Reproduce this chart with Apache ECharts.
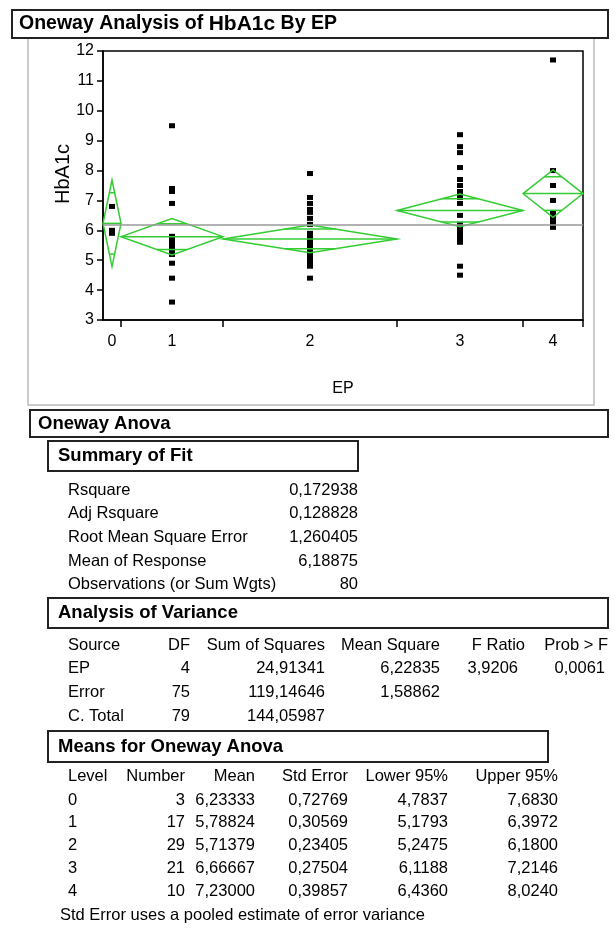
<!DOCTYPE html>
<html><head><meta charset="utf-8">
<script src="https://cdn.jsdelivr.net/npm/echarts@6/dist/echarts.min.js"></script>
<style>html,body{margin:0;padding:0;background:#fff}#c{width:615px;height:935px}</style>
</head><body><div id="c"></div>
<script>
// ---------- data ----------
const categories = ['0', '1', '2', '3', '4'];
const groupCounts = [3, 17, 29, 21, 10];
const groupMeans = [6.23333, 5.78824, 5.71379, 6.66667, 7.23000];
const stdErrors = [0.72769, 0.30569, 0.23405, 0.27504, 0.39857];
const lower95 = [4.7837, 5.1793, 5.2475, 6.1188, 6.4360];
const upper95 = [7.6830, 6.3972, 6.1800, 7.2146, 8.0240];
const grandMean = 6.18875;

const hba1cEP0 = [6.8, 6.0, 5.9];
const hba1cEP1 = [9.5, 7.4, 7.3, 6.9, 5.8, 5.7, 5.6, 5.5, 5.4, 5.4, 5.3, 5.3, 5.2, 5.2, 4.9, 4.4, 3.6];
const hba1cEP2 = [7.9, 7.1, 6.9, 6.7, 6.6, 6.4, 6.2, 5.9, 5.8, 5.8, 5.7, 5.7, 5.7, 5.6, 5.6, 5.5, 5.5, 5.4, 5.4, 5.3, 5.3, 5.2, 5.2, 5.1, 5.1, 5.0, 4.9, 4.8, 4.4];
const hba1cEP3 = [9.2, 8.8, 8.6, 8.1, 7.7, 7.5, 7.3, 7.1, 6.9, 6.5, 6.2, 6.1, 6.0, 5.9, 5.8, 5.8, 5.7, 5.7, 5.6, 4.8, 4.5];
const hba1cEP4 = [11.7, 8.0, 7.5, 7.0, 6.6, 6.5, 6.4, 6.3, 6.2, 6.1];
const groupValues = [hba1cEP0, hba1cEP1, hba1cEP2, hba1cEP3, hba1cEP4];

const yMin = 3, yMax = 12, yStep = 1;

const fitLabels = ['Rsquare', 'Adj Rsquare', 'Root Mean Square Error', 'Mean of Response', 'Observations (or Sum Wgts)'];
const fitValues = ['0,172938', '0,128828', '1,260405', '6,18875', '80'];

const anovaHeaders = ['Source', 'DF', 'Sum of Squares', 'Mean Square', 'F Ratio', 'Prob > F'];
const anovaSource = ['EP', 'Error', 'C. Total'];
const anovaDF = ['4', '75', '79'];
const anovaSS = ['24,91341', '119,14646', '144,05987'];
const anovaMS = ['6,22835', '1,58862', ''];
const anovaF = ['3,9206', '', ''];
const anovaP = ['0,0061', '', ''];

const meansHeaders = ['Level', 'Number', 'Mean', 'Std Error', 'Lower 95%', 'Upper 95%'];
const footnote = 'Std Error uses a pooled estimate of error variance';

// ---------- derived positions on the x scale (cumulative counts) ----------
const starts = [], ends = [], centers = [];
let acc = 0;
groupCounts.forEach(n => { starts.push(acc); centers.push(acc + n / 2); acc += n; ends.push(acc); });
const total = acc;

const scatterData = [];
groupValues.forEach((vals, g) => vals.forEach(v => scatterData.push([centers[g], v])));
const diamondData = categories.map((c, g) => [starts[g], ends[g], groupMeans[g], lower95[g], upper95[g]]);

const FONT = '"Liberation Sans", Arial, sans-serif';
const GREEN = '#33cc33';
const fmt = (v, d) => v.toFixed(d).replace('.', ',');
const BODY = 16.5, HEAD = 18.5;

// ---------- graphic helpers ----------
const gfx = [];
function txt(x, y, s, opt) {
  opt = opt || {};
  gfx.push({ type: 'text', x: x, y: y, silent: true,
    style: { text: s, fill: '#000', font: (opt.bold ? 'bold ' : '') + (opt.size || BODY) + 'px ' + FONT,
      align: opt.align || 'left', verticalAlign: 'middle' } });
}
function box(x, y, w, h) {
  gfx.push({ type: 'rect', shape: { x: x, y: y, width: w, height: h }, silent: true,
    style: { fill: '#fff', stroke: '#222', lineWidth: 2 } });
}

// outer plot panel frame
gfx.push({ type: 'rect', shape: { x: 28, y: 38, width: 566, height: 367 }, silent: true, z: -1,
  style: { fill: 'none', stroke: '#bbb', lineWidth: 1.5 } });

// title box
box(12, 10, 596, 28);
gfx.push({ type: 'text', x: 19, y: 24, silent: true,
  style: { text: '{b|Oneway Analysis of }{h|HbA1c}{b| By EP}', verticalAlign: 'middle', align: 'left',
    rich: { b: { font: 'bold 19.5px ' + FONT, fill: '#000' }, h: { font: '600 21px ' + FONT, fill: '#000' } } } });

// y axis name
gfx.push({ type: 'text', x: 63, y: 174, rotation: Math.PI / 2, silent: true,
  style: { text: 'HbA1c', font: '20px ' + FONT, fill: '#000', align: 'center', verticalAlign: 'middle' } });

// Oneway Anova
box(30, 410, 578, 27);
txt(38, 424, 'Oneway Anova', { bold: true, size: HEAD });

// Summary of Fit
box(48, 441, 310, 30);
txt(58, 456, 'Summary of Fit', { bold: true, size: HEAD });
const fitY = [490, 513, 537, 561, 584];
fitLabels.forEach((l, i) => { txt(68, fitY[i], l); txt(358, fitY[i], fitValues[i], { align: 'right' }); });

// Analysis of Variance
box(48, 598, 560, 30);
txt(58, 613, 'Analysis of Variance', { bold: true, size: HEAD });
const anovaHeadX = [68, 190, 325, 440, 525, 608];
const anovaHeadAlign = ['left', 'right', 'right', 'right', 'right', 'right'];
anovaHeaders.forEach((h, i) => txt(anovaHeadX[i], 645, h, { align: anovaHeadAlign[i] }));
const anovaRowY = [668, 692, 716];
const anovaValX = [68, 190, 325, 440, 518, 605];
anovaSource.forEach((s, r) => {
  const row = [s, anovaDF[r], anovaSS[r], anovaMS[r], anovaF[r], anovaP[r]];
  row.forEach((v, i) => { if (v) txt(anovaValX[i], anovaRowY[r], v, { align: anovaHeadAlign[i] }); });
});

// Means for Oneway Anova
box(48, 731, 500, 31);
txt(58, 747, 'Means for Oneway Anova', { bold: true, size: HEAD });
const meansX = [68, 185, 255, 348, 448, 558];
meansHeaders.forEach((h, i) => txt(meansX[i], 776, h, { align: i === 0 ? 'left' : 'right' }));
const meansRowY = [800, 822, 845, 868, 891];
categories.forEach((c, g) => {
  const row = [c, String(groupCounts[g]), fmt(groupMeans[g], 5), fmt(stdErrors[g], 5), fmt(lower95[g], 4), fmt(upper95[g], 4)];
  row.forEach((v, i) => txt(meansX[i], meansRowY[g], v, { align: i === 0 ? 'left' : 'right' }));
});
txt(60, 915, footnote);

// ---------- chart ----------
const chart = echarts.init(document.getElementById('c'), null, { renderer: 'canvas' });
chart.setOption({
  animation: false,
  backgroundColor: '#fff',
  grid: { left: 103, top: 51, width: 480, height: 269, show: true, borderColor: '#000', borderWidth: 1.5, backgroundColor: 'transparent' },
  xAxis: {
    type: 'value', min: 0, max: total,
    name: 'EP', nameLocation: 'middle', nameGap: 61,
    nameTextStyle: { fontFamily: FONT, fontSize: 16, color: '#000' },
    axisLine: { show: true, lineStyle: { color: '#000', width: 1.5 } },
    axisTick: { show: true, customValues: ends, length: 7, lineStyle: { color: '#000', width: 1.5 } },
    axisLabel: { customValues: centers, margin: 14, fontFamily: FONT, fontSize: 16, color: '#000',
      formatter: v => { const i = centers.findIndex(c => Math.abs(c - v) < 1e-6); return i >= 0 ? categories[i] : ''; } },
    splitLine: { show: false }
  },
  yAxis: {
    type: 'value', min: yMin, max: yMax, interval: yStep,
    axisLine: { show: true, lineStyle: { color: '#000', width: 1.5 } },
    axisTick: { show: true, length: 6, lineStyle: { color: '#000', width: 1.5 } },
    axisLabel: { margin: 9, fontFamily: FONT, fontSize: 16, color: '#000' },
    splitLine: { show: false }
  },
  series: [
    {
      type: 'scatter', symbol: 'rect', symbolSize: [6, 5], data: scatterData,
      itemStyle: { color: '#000', opacity: 1 }, z: 3,
      markLine: { silent: true, symbol: 'none', label: { show: false },
        lineStyle: { color: '#999', width: 1.5, type: 'solid' }, data: [{ yAxis: grandMean }] }
    },
    {
      type: 'custom', data: diamondData, z: 4, clip: false,
      renderItem: function (params, api) {
        const s = api.value(0), e = api.value(1), m = api.value(2), lo = api.value(3), hi = api.value(4);
        const mid = (s + e) / 2;
        const pL = api.coord([s, m]), pR = api.coord([e, m]);
        const pT = api.coord([mid, hi]), pB = api.coord([mid, lo]);
        const hw = (pR[0] - pL[0]) / 2;
        const off = (hi - m) / Math.SQRT2;
        const frac = 1 - 1 / Math.SQRT2;
        const yU = api.coord([mid, m + off])[1], yD = api.coord([mid, m - off])[1];
        const cx = pT[0];
        const st = { stroke: GREEN, lineWidth: 1.5, fill: 'none' };
        return { type: 'group', children: [
          { type: 'polygon', shape: { points: [pL, pT, pR, pB] }, style: st },
          { type: 'line', shape: { x1: pL[0], y1: pL[1], x2: pR[0], y2: pR[1] }, style: st },
          { type: 'line', shape: { x1: cx - hw * frac, y1: yU, x2: cx + hw * frac, y2: yU }, style: st },
          { type: 'line', shape: { x1: cx - hw * frac, y1: yD, x2: cx + hw * frac, y2: yD }, style: st }
        ] };
      }
    }
  ],
  graphic: gfx
});
</script></body></html>
